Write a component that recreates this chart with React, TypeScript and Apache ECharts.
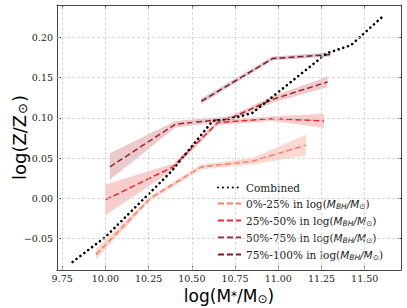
import React, { useEffect, useRef } from "react";
import * as echarts from "echarts";

// ---------- data ----------
const xTicks = [9.75, 10.0, 10.25, 10.5, 10.75, 11.0, 11.25, 11.5];
const yTicks = [-0.05, 0.0, 0.05, 0.1, 0.15, 0.2];

const combinedX = [9.81, 10.0, 10.38, 10.62, 10.75, 10.85, 11.28, 11.42, 11.6];
const combinedY = [-0.079, -0.048, 0.033, 0.096, 0.1, 0.106, 0.18, 0.19, 0.225];

const q1X = [9.945, 10.26, 10.555, 10.85, 11.16];
const q1Y = [-0.07, 0.0, 0.039, 0.046, 0.066];
const q1Lo = [-0.076, -0.003, 0.036, 0.042, 0.053];
const q1Hi = [-0.063, 0.003, 0.042, 0.05, 0.079];

const q2X = [10.0, 10.39, 10.65, 10.97, 11.265];
const q2Y = [-0.002, 0.039, 0.094, 0.099, 0.096];
const q2Lo = [-0.021, 0.035, 0.091, 0.096, 0.0875];
const q2Hi = [0.017, 0.043, 0.097, 0.102, 0.105];

const q3X = [10.026, 10.405, 10.72, 10.97, 11.285];
const q3Y = [0.039, 0.092, 0.099, 0.123, 0.1445];
const q3Lo = [0.023, 0.088, 0.096, 0.119, 0.138];
const q3Hi = [0.056, 0.096, 0.102, 0.127, 0.151];

const q4X = [10.555, 10.967, 11.3];
const q4Y = [0.1205, 0.1735, 0.1785];
const q4Lo = [0.117, 0.171, 0.176];
const q4Hi = [0.124, 0.176, 0.181];

const names = ["Combined", "0%-25%", "25%-50%", "50%-75%", "75%-100%"];
const lineColors = ["#fe7b64", "#f0282e", "#a8202a", "#7a1c2c"];
const bandColors = [
  "rgba(250,120,95,0.28)",
  "rgba(235,60,60,0.26)",
  "rgba(168,32,42,0.24)",
  "rgba(122,28,44,0.24)",
];

const zip = (xs: number[], ys: number[]) => xs.map((x, i) => [x, ys[i]]);

function band(name: string, xs: number[], lo: number[], hi: number[], color: string) {
  return {
    type: "custom",
    name,
    silent: true,
    z: 1,
    data: [[xs[0], lo[0]]],
    renderItem: (_p: any, api: any) => {
      const pts: number[][] = [];
      for (let i = 0; i < xs.length; i++) pts.push(api.coord([xs[i], hi[i]]));
      for (let i = xs.length - 1; i >= 0; i--) pts.push(api.coord([xs[i], lo[i]]));
      return { type: "polygon", shape: { points: pts }, style: { fill: color, stroke: "none" } };
    },
  };
}

function dashed(name: string, xs: number[], ys: number[], color: string) {
  return {
    type: "line",
    name,
    data: zip(xs, ys),
    showSymbol: false,
    symbol: "none",
    z: 3,
    itemStyle: { color },
    lineStyle: { color, width: 1.5, type: [6, 3] },
  };
}

const fmt = (v: number) => (v < 0 ? "\u2212" : "") + Math.abs(v).toFixed(2);
const SERIF = "'DejaVu Serif', serif";
const SANS = "'DejaVu Sans', sans-serif";

export default function App() {
  const ref = useRef<HTMLDivElement>(null);
  useEffect(() => {
    document.body.style.margin = "0";
    const chart = echarts.init(ref.current!, undefined, { renderer: "svg" });
    const axisCommon = {
      type: "value",
      nameMoveOverlap: false,
      axisLine: { show: true, onZero: false, lineStyle: { color: "#444", width: 1 } },
      splitLine: { show: false },
    };
    const tickStyle = { show: true, inside: true, length: 4, lineStyle: { color: "#444", width: 1 } };
    const labelFont = { fontFamily: SERIF, fontSize: 9.5, color: "#222" };
    const nameRich = {
      a: { fontFamily: SANS, fontSize: 17, color: "#000" },
      b: { fontFamily: SANS, fontSize: 12, color: "#000" },
      c: { fontFamily: SANS, fontSize: 12, color: "#000", padding: [7, 0, 0, 0] },
    };
    const yNameRich = {
      a: { fontFamily: SANS, fontSize: 18, color: "#000" },
      c: { fontFamily: SANS, fontSize: 13, color: "#000", padding: [7, 1, 0, 1] },
    };
    const legendRich = {
      n: { fontFamily: SERIF, fontSize: 10.5, color: "#222" },
      i: { fontFamily: SANS, fontStyle: "italic", fontSize: 10.5, color: "#222" },
      s: { fontFamily: SANS, fontStyle: "italic", fontSize: 7.5, color: "#222", padding: [5, 0, 0, 0] },
    };
    const option: any = {
      animation: false,
      grid: { left: 57, right: 6, top: 5, bottom: 38, containLabel: false, outerBoundsMode: "none" },
      xAxis: [
        {
          ...axisCommon,
          min: 9.72,
          max: 11.71,
          position: "bottom",
          axisTick: { ...tickStyle, customValues: xTicks },
          axisLabel: { ...labelFont, customValues: xTicks, margin: 3, formatter: fmt },
          name: "{a|log(M}{b|*}{a|/M}{c|\u2299}{a|)}",
          nameLocation: "middle",
          nameGap: 16,
          nameTextStyle: { rich: nameRich, verticalAlign: "top" },
        },
        {
          ...axisCommon,
          min: 9.72,
          max: 11.71,
          position: "top",
          axisTick: { ...tickStyle, customValues: xTicks },
          axisLabel: { show: false },
        },
      ],
      yAxis: [
        {
          ...axisCommon,
          min: -0.089,
          max: 0.24,
          position: "left",
          axisTick: { ...tickStyle, customValues: yTicks },
          axisLabel: { ...labelFont, customValues: yTicks, margin: 4, formatter: fmt },
          name: "{a|log(Z/Z}{c|\u2299}{a|)}",
          nameLocation: "middle",
          nameGap: 28,
          nameRotate: 90,
          nameTextStyle: { rich: yNameRich },
        },
        {
          ...axisCommon,
          min: -0.089,
          max: 0.24,
          position: "right",
          axisTick: { ...tickStyle, customValues: yTicks },
          axisLabel: { show: false },
        },
      ],
      legend: {
        orient: "vertical",
        left: 212,
        top: 177,
        itemWidth: 23,
        itemHeight: 12,
        itemGap: 5,
        data: names,
        itemStyle: { opacity: 0, color: "rgba(0,0,0,0)", borderWidth: 0 },
        formatter: (n: string) =>
          n === "Combined"
            ? "{n|Combined}"
            : `{n|${n} in log(}{i|M}{s|BH}{i|/M}{s|\u2299}{n|)}`,
        textStyle: { rich: legendRich },
      },
      series: [
        {
          type: "line",
          name: "grid",
          data: [],
          silent: true,
          z: 0,
          markLine: {
            silent: true,
            symbol: "none",
            label: { show: false },
            lineStyle: { color: "#cfcfcf", width: 0.8, type: [3, 2] },
            data: [
              ...xTicks.map((v) => ({ xAxis: v })),
              ...yTicks.map((v) => ({ yAxis: v })),
            ],
          },
        },
        band("b1", q1X, q1Lo, q1Hi, bandColors[0]),
        band("b2", q2X, q2Lo, q2Hi, bandColors[1]),
        band("b3", q3X, q3Lo, q3Hi, bandColors[2]),
        band("b4", q4X, q4Lo, q4Hi, bandColors[3]),
        dashed(names[1], q1X, q1Y, lineColors[0]),
        dashed(names[2], q2X, q2Y, lineColors[1]),
        dashed(names[3], q3X, q3Y, lineColors[2]),
        dashed(names[4], q4X, q4Y, lineColors[3]),
        {
          type: "line",
          name: names[0],
          data: zip(combinedX, combinedY),
          showSymbol: false,
          symbol: "none",
          z: 4,
          itemStyle: { color: "#000" },
          lineStyle: { color: "#000", width: 2.6, type: [0.1, 4.8], cap: "round" },
        },
      ],
    };
    chart.setOption(option);
    return () => chart.dispose();
  }, []);
  return <div ref={ref} style={{ width: 407, height: 308 }} />;
}
